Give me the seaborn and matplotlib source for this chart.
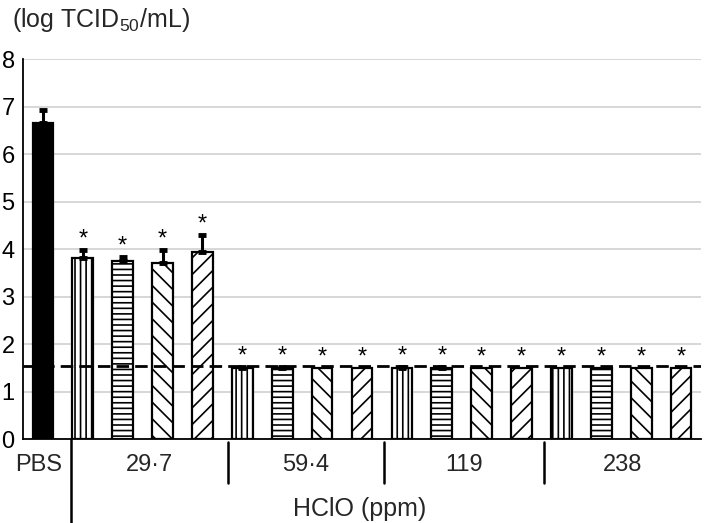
import matplotlib
matplotlib.use("Agg")
import matplotlib.pyplot as plt
from matplotlib.lines import Line2D
import seaborn as sns
import numpy as np
import pandas as pd

# ---- data ----
groups = ["PBS", "29·7", "59·4", "119", "238"]
bar_ids = ["PBS"] + [f"{g}-{k}" for g in groups[1:] for k in range(4)]
values = [6.65, 3.81, 3.75, 3.71, 3.94,
          1.50, 1.50, 1.50, 1.50,
          1.50, 1.50, 1.50, 1.50,
          1.50, 1.50, 1.50, 1.50]
errors = [0.28, 0.17, 0.08, 0.27, 0.35,
          0.02, 0.02, 0.0, 0.0,
          0.02, 0.02, 0.0, 0.0,
          0.0, 0.0, 0.0, 0.0]
significant = [False] + [True] * 16
hatch_patterns = ["", "|||", "---", "\\\\", "//"]
detection_limit = 1.53
y_ticks = [0, 1, 2, 3, 4, 5, 6, 7, 8]
divider_pos = [0.7, 4.64, 8.55, 12.56]
ylabel = r"(log TCID$_{50}$/mL)"
xlabel = "HClO (ppm)"

sns.set_theme(style="white")
plt.rcParams["font.family"] = ["Liberation Sans", "DejaVu Sans"]
plt.rcParams["mathtext.default"] = "regular"
plt.rcParams["hatch.linewidth"] = 1.2
plt.rcParams["hatch.color"] = "black"

fig = plt.figure(figsize=(7.09, 5.23), dpi=100)
ax = fig.add_axes([23 / 709, (523 - 439) / 523, (701 - 23) / 709, (439 - 59.3) / 523])

df = pd.DataFrame({"bar": bar_ids, "value": values})
sns.barplot(data=df, x="bar", y="value", order=bar_ids, color="white",
            saturation=1, edgecolor="black", linewidth=1.6, width=0.52,
            errorbar=None, ax=ax, zorder=3)

for i, p in enumerate(ax.patches):
    if i == 0:
        p.set_facecolor("black")
    else:
        p.set_facecolor("white")
        p.set_hatch(hatch_patterns[1 + (i - 1) % 4])

x = np.arange(len(values))
vals = np.array(values)
errs = np.array(errors)
m = errs > 0
ax.errorbar(x[m], vals[m], yerr=[np.zeros(m.sum()), errs[m]], fmt="none",
            ecolor="black", elinewidth=2.2, capsize=3, capthick=3.5, zorder=4)

for i in range(len(values)):
    if significant[i]:
        ax.text(x[i], vals[i] + errs[i] + 0.22, "*", ha="center", va="center",
                fontsize=17, color="black", zorder=5)

ax.axhline(detection_limit, color="black", lw=2.0, ls=(0, (4.5, 2.2)), zorder=6)

ax.set_ylim(0, 8)
ax.set_xlim(-0.5, len(values) - 0.5)
ax.set_yticks(y_ticks)
ax.set_yticklabels([str(t) for t in y_ticks], fontsize=17)
ax.tick_params(axis="y", length=0, pad=6, colors="black")
ax.set_xticks([])
ax.set_xlabel("")
ax.set_ylabel("")
ax.yaxis.grid(True, color="#d4d4d4", lw=1.3, zorder=0)
ax.set_axisbelow(True)
for s in ["top", "right"]:
    ax.spines[s].set_visible(False)
for s in ["left", "bottom"]:
    ax.spines[s].set_color("black")
    ax.spines[s].set_linewidth(1.3)

trans = ax.get_xaxis_transform()
# dividers
ax.add_line(Line2D([divider_pos[0]] * 2, [0, -0.23], transform=trans,
                   color="black", lw=1.8, clip_on=False))
for d in divider_pos[1:]:
    ax.add_line(Line2D([d, d], [-0.008, -0.116], transform=trans,
                       color="black", lw=1.8, clip_on=False))

# group labels
bounds = [-0.5] + divider_pos + [len(values) - 0.5]
ax.text(-0.1, -0.068, groups[0], transform=trans, ha="center", va="center", fontsize=17)
for j in range(1, len(groups)):
    cx = (bounds[j] + bounds[j + 1]) / 2
    ax.text(cx, -0.068, groups[j], transform=trans, ha="center", va="center", fontsize=17)
ax.text(7.94, -0.185, xlabel, transform=trans, ha="center", va="center", fontsize=18)

fig.text(12 / 709, 1 - 20 / 523, ylabel, ha="left", va="center", fontsize=18)

fig.savefig("out.png", dpi=100)
